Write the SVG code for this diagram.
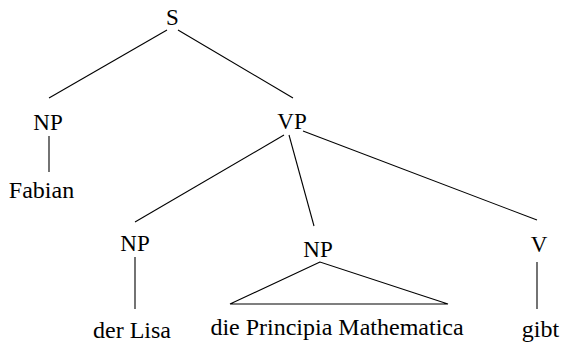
<svg xmlns="http://www.w3.org/2000/svg" width="561" height="347" viewBox="0 0 561 347">
  <style>
    .edge { stroke: #000; stroke-width: 1.1; fill: none; }
    .cat { font-size: 23px; }
    .leaf { font-size: 24px; }
  </style>
  <rect width="561" height="347" fill="#fff"/>
  <g font-family="Liberation Serif, serif" fill="#000" text-anchor="middle">
    <g id="connectors">
      <line class="edge" x1="167" y1="30" x2="49" y2="98"/>
      <line class="edge" x1="178" y1="30" x2="293" y2="98"/>
      <line class="edge" x1="49" y1="136" x2="49" y2="172"/>
      <line class="edge" x1="284" y1="135" x2="135" y2="222"/>
      <line class="edge" x1="289" y1="135" x2="314" y2="226"/>
      <line class="edge" x1="303" y1="131" x2="537" y2="220"/>
      <line class="edge" x1="135" y1="257" x2="135" y2="309"/>
      <polygon class="edge" points="320,262 230,304 448,304"/>
      <line class="edge" x1="537" y1="262" x2="537" y2="309"/>
    </g>
    <g id="node-S"><text class="cat" x="172.5" y="25">S</text></g>
    <g id="node-NP-subj"><text class="cat" x="48" y="130">NP</text></g>
    <g id="node-VP"><text class="cat" x="292" y="129">VP</text></g>
    <g id="leaf-Fabian"><text class="leaf" x="41.5" y="198">Fabian</text></g>
    <g id="node-NP-dat"><text class="cat" x="135" y="251">NP</text></g>
    <g id="node-NP-acc"><text class="cat" x="318" y="257">NP</text></g>
    <g id="node-V"><text class="cat" x="539" y="252">V</text></g>
    <g id="leaf-der-Lisa"><text class="leaf" x="132" y="338">der Lisa</text></g>
    <g id="leaf-PM"><text class="leaf" x="337" y="335">die Principia Mathematica</text></g>
    <g id="leaf-gibt"><text class="leaf" x="540.5" y="337">gibt</text></g>
  </g>
</svg>
